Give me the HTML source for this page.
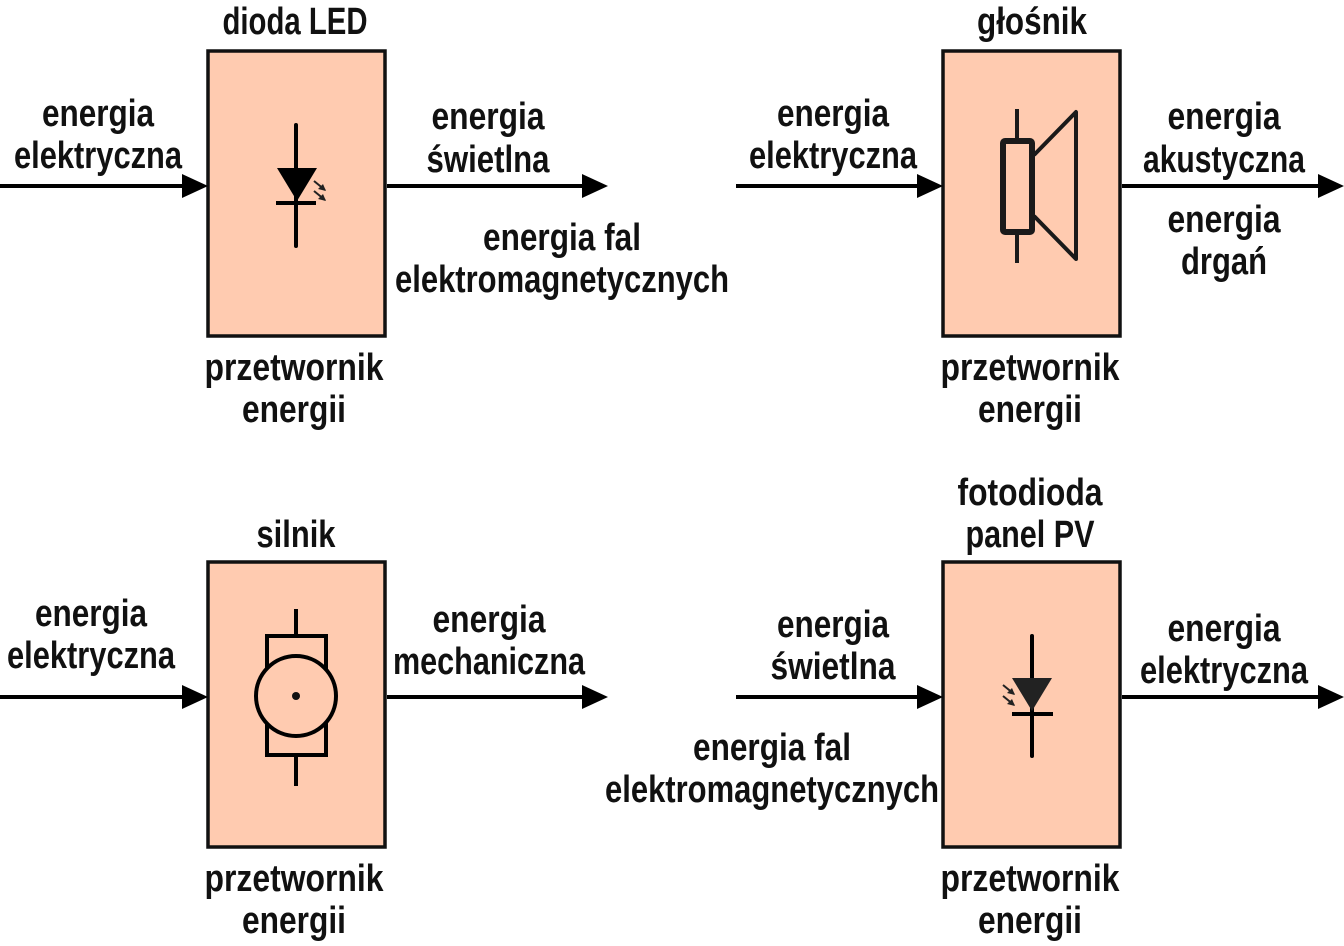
<!DOCTYPE html>
<html><head><meta charset="utf-8"><style>
html,body{margin:0;padding:0;background:#fff;}
svg{display:block;}
text{font-family:"Liberation Sans Narrow","Liberation Sans",sans-serif;font-weight:bold;font-size:38px;fill:#111;text-anchor:middle;}
</style></head><body>
<svg width="1344" height="946" viewBox="0 0 1344 946" xmlns="http://www.w3.org/2000/svg">
<defs>
<marker id="ah" markerWidth="8" markerHeight="8" refX="8" refY="4" orient="auto" markerUnits="userSpaceOnUse" viewBox="0 0 8 8"><path d="M0,0 L8,4 L0,8z" fill="#000"/></marker>
</defs>
<g fill="#ffcbb0" stroke="#111" stroke-width="3.5">
<rect x="208" y="51" width="177" height="285"/>
<rect x="943" y="51" width="177" height="285"/>
<rect x="208" y="562" width="177" height="285"/>
<rect x="943" y="562" width="177" height="285"/>
</g>
<g stroke="#000" stroke-width="4">
<line x1="0" y1="186" x2="184" y2="186"/>
<line x1="387" y1="186" x2="584" y2="186"/>
<line x1="736" y1="186" x2="919" y2="186"/>
<line x1="1122" y1="186" x2="1320" y2="186"/>
<line x1="0" y1="697" x2="184" y2="697"/>
<line x1="387" y1="697" x2="584" y2="697"/>
<line x1="736" y1="697" x2="919" y2="697"/>
<line x1="1122" y1="697" x2="1320" y2="697"/>
</g>
<g fill="#000">
<path d="M182,174 L208,186 L182,198z"/>
<path d="M582,174 L608,186 L582,198z"/>
<path d="M917,174 L943,186 L917,198z"/>
<path d="M1318,174 L1344,186 L1318,198z"/>
<path d="M182,685 L208,697 L182,709z"/>
<path d="M582,685 L608,697 L582,709z"/>
<path d="M917,685 L943,697 L917,709z"/>
<path d="M1318,685 L1344,697 L1318,709z"/>
</g>
<!-- LED -->
<g stroke="#000" stroke-width="4" stroke-linecap="round">
<line x1="296" y1="125" x2="296" y2="246"/>
<line x1="276" y1="203" x2="316" y2="203" stroke-linecap="butt"/>
</g>
<path d="M277,168 L317,168 L297,201z" fill="#000"/>
<g stroke="#222" stroke-width="2"><line x1="314" y1="181" x2="325" y2="190"/><line x1="314" y1="191" x2="325" y2="200"/></g>
<path d="M326,191 L318,189 L323,184z M326,201 L318,199 L323,194z" fill="#222"/>
<!-- Photodiode -->
<g stroke="#000" stroke-width="4" stroke-linecap="round">
<line x1="1032" y1="636" x2="1032" y2="756"/>
<line x1="1012" y1="714" x2="1053" y2="714" stroke-linecap="butt"/>
</g>
<path d="M1012,678 L1052,678 L1032,711z" fill="#222"/>
<g stroke="#222" stroke-width="2"><line x1="1003" y1="685" x2="1014" y2="694"/><line x1="1003" y1="696" x2="1014" y2="705"/></g>
<path d="M1015,695 L1007,693 L1012,688z M1015,706 L1007,704 L1012,699z" fill="#222"/>
<!-- Speaker -->
<g stroke="#1a1a1a" fill="none">
<line x1="1017" y1="109" x2="1017" y2="140" stroke-width="4"/>
<line x1="1017" y1="232" x2="1017" y2="263" stroke-width="4"/>
<rect x="1003" y="141" width="29" height="91" rx="2" stroke-width="6"/>
<path d="M1034,155 L1076,112 L1076,259 L1034,216" stroke-width="4" stroke-linejoin="round"/>
</g>
<!-- Motor -->
<g stroke="#000" fill="none" stroke-width="4">
<line x1="296" y1="609" x2="296" y2="635"/>
<line x1="296" y1="756" x2="296" y2="786"/>
<rect x="267" y="636" width="59" height="119"/>
<circle cx="296" cy="696" r="40" fill="#ffcbb0"/>
</g>
<circle cx="296" cy="696" r="4" fill="#111"/>
<!-- Text -->
<text x="295" y="34" textLength="145" lengthAdjust="spacingAndGlyphs">dioda LED</text>
<text x="98" y="126" textLength="112" lengthAdjust="spacingAndGlyphs">energia</text>
<text x="98" y="168" textLength="168" lengthAdjust="spacingAndGlyphs">elektryczna</text>
<text x="488" y="129" textLength="113" lengthAdjust="spacingAndGlyphs">energia</text>
<text x="488" y="172" textLength="123" lengthAdjust="spacingAndGlyphs">świetlna</text>
<text x="562" y="250" textLength="158" lengthAdjust="spacingAndGlyphs">energia fal</text>
<text x="562" y="292" textLength="334" lengthAdjust="spacingAndGlyphs">elektromagnetycznych</text>
<text x="294" y="380" textLength="179" lengthAdjust="spacingAndGlyphs">przetwornik</text>
<text x="294" y="422" textLength="104" lengthAdjust="spacingAndGlyphs">energii</text>

<text x="1032" y="34" textLength="110" lengthAdjust="spacingAndGlyphs">głośnik</text>
<text x="833" y="126" textLength="112" lengthAdjust="spacingAndGlyphs">energia</text>
<text x="833" y="168" textLength="168" lengthAdjust="spacingAndGlyphs">elektryczna</text>
<text x="1224" y="129" textLength="113" lengthAdjust="spacingAndGlyphs">energia</text>
<text x="1224" y="172" textLength="162" lengthAdjust="spacingAndGlyphs">akustyczna</text>
<text x="1224" y="232" textLength="113" lengthAdjust="spacingAndGlyphs">energia</text>
<text x="1224" y="274" textLength="86" lengthAdjust="spacingAndGlyphs">drgań</text>
<text x="1030" y="380" textLength="179" lengthAdjust="spacingAndGlyphs">przetwornik</text>
<text x="1030" y="422" textLength="104" lengthAdjust="spacingAndGlyphs">energii</text>

<text x="296" y="547" textLength="79" lengthAdjust="spacingAndGlyphs">silnik</text>
<text x="91" y="626" textLength="112" lengthAdjust="spacingAndGlyphs">energia</text>
<text x="91" y="668" textLength="168" lengthAdjust="spacingAndGlyphs">elektryczna</text>
<text x="489" y="632" textLength="113" lengthAdjust="spacingAndGlyphs">energia</text>
<text x="489" y="674" textLength="192" lengthAdjust="spacingAndGlyphs">mechaniczna</text>
<text x="294" y="891" textLength="179" lengthAdjust="spacingAndGlyphs">przetwornik</text>
<text x="294" y="933" textLength="104" lengthAdjust="spacingAndGlyphs">energii</text>

<text x="1030" y="505" textLength="145" lengthAdjust="spacingAndGlyphs">fotodioda</text>
<text x="1030" y="547" textLength="129" lengthAdjust="spacingAndGlyphs">panel PV</text>
<text x="833" y="637" textLength="112" lengthAdjust="spacingAndGlyphs">energia</text>
<text x="833" y="679" textLength="125" lengthAdjust="spacingAndGlyphs">świetlna</text>
<text x="772" y="760" textLength="158" lengthAdjust="spacingAndGlyphs">energia fal</text>
<text x="772" y="802" textLength="334" lengthAdjust="spacingAndGlyphs">elektromagnetycznych</text>
<text x="1224" y="641" textLength="113" lengthAdjust="spacingAndGlyphs">energia</text>
<text x="1224" y="683" textLength="168" lengthAdjust="spacingAndGlyphs">elektryczna</text>
<text x="1030" y="891" textLength="179" lengthAdjust="spacingAndGlyphs">przetwornik</text>
<text x="1030" y="933" textLength="104" lengthAdjust="spacingAndGlyphs">energii</text>
</svg>
</body></html>
